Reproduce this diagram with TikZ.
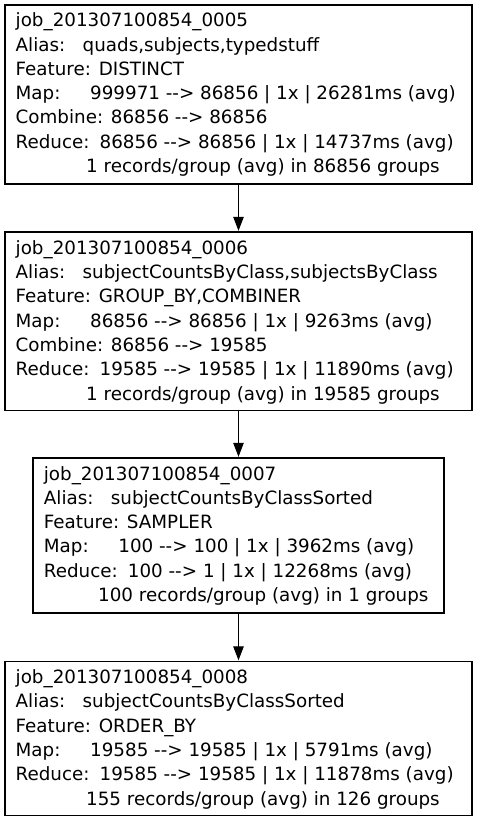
\documentclass[tikz,border=0pt]{standalone}
\usepackage{fontspec}
\setmainfont{DejaVu Sans}[Ligatures=TeXOff]
\usetikzlibrary{arrows.meta}
\newcommand{\pigarrow}{\mbox{-}\mbox{-}>}
\newcommand{\fieldlbl}[2]{\makebox[#1][l]{#2}}
\tikzset{
  jobbox/.style={draw=black, line width=1.2pt, rectangle, inner sep=0pt},
  jobline/.style={anchor=base west, inner sep=0pt, text=black,
    font=\fontsize{18.3}{24.3}\selectfont},
  flow/.style={draw=black, line width=1.1pt, -{Triangle[length=14pt,width=10.5pt]}, shorten >=0.6pt}
}
\begin{document}
\begin{tikzpicture}[x=1pt,y=-1pt]
\useasboundingbox (0,0) rectangle (477,821);
\fill[white] (0,0) rectangle (477,821);
% boxes
\node[jobbox, minimum width=467pt, minimum height=179pt] (j5) at (238.5,94.5) {};
\node[jobbox, minimum width=467pt, minimum height=178.5pt] (j6) at (238.5,321.25) {};
\node[jobbox, minimum width=411pt, minimum height=155pt] (j7) at (238.5,535.5) {};
\node[jobbox, minimum width=467pt, minimum height=154pt] (j8) at (238.5,738.5) {};
% box 1 text
\node[jobline] (j5a) at (15.5,26.8) {job\_201307100854\_0005};
\node[jobline] (j5b) at (15.5,51.1) {\fieldlbl{67pt}{Alias:}quads,subjects,typedstuff};
\node[jobline] (j5c) at (15.5,75.4) {Feature: DISTINCT};
\node[jobline] (j5d) at (15.5,99.7) {\fieldlbl{74.5pt}{Map:}999971 \pigarrow{} 86856 | 1x | 26281ms (avg)};
\node[jobline] (j5e) at (15.5,124.0) {Combine: 86856 \pigarrow{} 86856};
\node[jobline] (j5f) at (15.5,148.3) {\fieldlbl{84pt}{Reduce:}86856 \pigarrow{} 86856 | 1x | 14737ms (avg)};
\node[jobline] (j5g) at (86,172.6) {1 records/group (avg) in 86856 groups};
% box 2 text
\node[jobline] (j6a) at (15.5,254.3) {job\_201307100854\_0006};
\node[jobline] (j6b) at (15.5,278.6) {\fieldlbl{67pt}{Alias:}subjectCountsByClass,subjectsByClass};
\node[jobline] (j6c) at (15.5,302.9) {Feature: GROUP\_BY,COMBINER};
\node[jobline] (j6d) at (15.5,327.2) {\fieldlbl{74.5pt}{Map:}86856 \pigarrow{} 86856 | 1x | 9263ms (avg)};
\node[jobline] (j6e) at (15.5,351.5) {Combine: 86856 \pigarrow{} 19585};
\node[jobline] (j6f) at (15.5,375.8) {\fieldlbl{84pt}{Reduce:}19585 \pigarrow{} 19585 | 1x | 11890ms (avg)};
\node[jobline] (j6g) at (86,400.1) {1 records/group (avg) in 19585 groups};
% box 3 text
\node[jobline] (j7a) at (43.7,480.0) {job\_201307100854\_0007};
\node[jobline] (j7b) at (43.7,504.3) {\fieldlbl{67pt}{Alias:}subjectCountsByClassSorted};
\node[jobline] (j7c) at (43.7,528.6) {Feature: SAMPLER};
\node[jobline] (j7d) at (43.7,552.9) {\fieldlbl{74.5pt}{Map:}100 \pigarrow{} 100 | 1x | 3962ms (avg)};
\node[jobline] (j7e) at (43.7,577.2) {\fieldlbl{84pt}{Reduce:}100 \pigarrow{} 1 | 1x | 12268ms (avg)};
\node[jobline] (j7f) at (98,601.5) {100 records/group (avg) in 1 groups};
% box 4 text
\node[jobline] (j8a) at (15.5,683.5) {job\_201307100854\_0008};
\node[jobline] (j8b) at (15.5,707.8) {\fieldlbl{67pt}{Alias:}subjectCountsByClassSorted};
\node[jobline] (j8c) at (15.5,732.1) {Feature: ORDER\_BY};
\node[jobline] (j8d) at (15.5,756.4) {\fieldlbl{74.5pt}{Map:}19585 \pigarrow{} 19585 | 1x | 5791ms (avg)};
\node[jobline] (j8e) at (15.5,780.7) {\fieldlbl{84pt}{Reduce:}19585 \pigarrow{} 19585 | 1x | 11878ms (avg)};
\node[jobline] (j8f) at (86,805.0) {155 records/group (avg) in 126 groups};
% connectors
\draw[flow] (j5.south) -- (j6.north);
\draw[flow] (j6.south) -- (j7.north);
\draw[flow] (j7.south) -- (j8.north);
\end{tikzpicture}
\end{document}
